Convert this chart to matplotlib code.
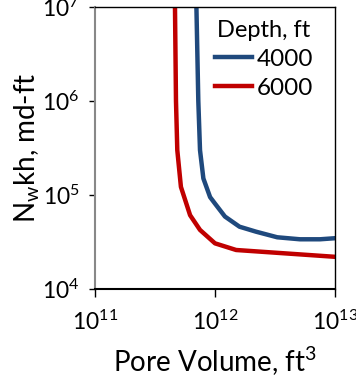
import matplotlib
matplotlib.use("Agg")
import matplotlib.pyplot as plt
from matplotlib.ticker import FixedLocator, NullLocator
from matplotlib.transforms import Bbox, TransformedBbox

# values
pv_4000 = [7.0e11, 7.26e11, 7.5e11, 8.0e11, 9.1e11, 1.0e12, 1.21e12, 1.6e12,
           2.2e12, 3.3e12, 5.1e12, 7.5e12, 1.0e13]
kh_4000 = [1.0e7, 1.0e6, 3.0e5, 1.5e5, 9.5e4, 8.1e4, 5.9e4, 4.6e4,
           4.07e4, 3.55e4, 3.38e4, 3.38e4, 3.47e4]
pv_6000 = [4.64e11, 4.73e11, 4.85e11, 5.2e11, 6.2e11, 7.5e11, 1.0e12, 1.5e12, 1.0e13]
kh_6000 = [1.0e7, 1.0e6, 3.0e5, 1.22e5, 6.1e4, 4.25e4, 3.06e4, 2.6e4, 2.2e4]
depths = ["4000", "6000"]
x_ticks = [1e11, 1e12, 1e13]
y_ticks = [1e4, 1e5, 1e6, 1e7]

fam = 'Lato'
plt.rcParams['font.family'] = [fam, 'DejaVu Sans']
plt.rcParams['mathtext.fontset'] = 'custom'
plt.rcParams['mathtext.rm'] = fam
plt.rcParams['mathtext.it'] = fam

fig = plt.figure(figsize=(3.56, 3.83), dpi=100)
ax = fig.add_axes([95 / 356, 1 - 289 / 383, 240 / 356, 282 / 383])

ax.plot(pv_4000, kh_4000, color='#1f497d', lw=3.2, label=depths[0])
ax.plot(pv_6000, kh_6000, color='#c00000', lw=3.2, label=depths[1])

ax.set_xscale('log')
ax.set_yscale('log')
ax.set_xlim(1e11, 1e13)
ax.set_ylim(1e4, 1e7)
ax.xaxis.set_major_locator(FixedLocator(x_ticks))
ax.yaxis.set_major_locator(FixedLocator(y_ticks))
ax.xaxis.set_minor_locator(NullLocator())
ax.yaxis.set_minor_locator(NullLocator())
ax.set_xticklabels([r'$10^{11}$', r'$10^{12}$', r'$10^{13}$'], fontsize=16.5)
ax.set_yticklabels([r'$10^{4}$', r'$10^{5}$', r'$10^{6}$', r'$10^{7}$'], fontsize=16.5)
ax.tick_params(axis='x', length=6, width=1, pad=9)
ax.tick_params(axis='y', length=4, width=1, pad=7)

ax.spines['left'].set_color('#888888')
ax.spines['left'].set_linewidth(1.5)
ax.spines['bottom'].set_linewidth(1.5)
ax.spines['top'].set_linewidth(1)
ax.spines['right'].set_linewidth(1)

ax.set_xlabel('Pore Volume, ft$^3$', fontsize=20, labelpad=8)
ax.set_ylabel('N$_w$kh, md-ft', fontsize=20, labelpad=0)

leg = ax.legend(title='Depth, ft', loc='upper left', bbox_to_anchor=(0.46, 0.99),
                frameon=False, fontsize=17.5, title_fontsize=17, handlelength=1.5,
                handletextpad=0.2, labelspacing=0.33, borderaxespad=0)
# legend entries are cut off on the right in the original
clip = TransformedBbox(Bbox([[0, 0], [313 / 356, 1]]), fig.transFigure)
for t in leg.get_texts():
    t.set_clip_box(clip)
    t.set_clip_on(True)

fig.savefig('out.png', dpi=100)
